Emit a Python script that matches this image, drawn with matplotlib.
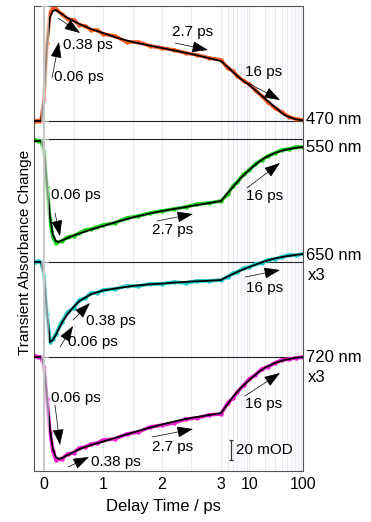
import numpy as np
import matplotlib
matplotlib.use("Agg")
import matplotlib.pyplot as plt

plt.rcParams['font.family'] = ['Liberation Sans', 'DejaVu Sans']

# measured kinetics, delay time in ps, signal in mOD
t_data = [-0.15, -0.1, -0.05, 0.0, 0.05, 0.1, 0.15, 0.2, 0.3, 0.4, 0.5, 0.6, 0.7, 0.8,
          0.9, 1.0, 1.2, 1.4, 1.6, 1.8, 2.0, 2.2, 2.4, 2.6, 2.8, 3.0,
          4, 5, 6, 8, 10, 13, 17, 22, 30, 40, 55, 75, 100]
d470 = [0, 0.5, 0, 22, 78, 108, 113, 112, 107, 102, 101, 96, 95, 91,
        91, 87, 85, 79, 79, 75, 73, 71, 68, 66, 63, 61,
        53, 50, 45, 40, 37, 31, 25, 19, 13, 9, 4, 2, 1]
d550 = [-1, -2, -2, -12, -48, -80, -98, -104, -102, -98, -97, -94, -91, -90,
        -88, -86, -84, -79, -77, -74, -72, -70, -68, -65, -64, -62,
        -55, -47, -43, -35, -31, -25, -21, -17, -14, -11, -10, -8, -8]
d650 = [0, 0.3, 0, -4.7, -17.3, -26.7, -25.7, -24, -20, -16.7, -15.3, -12.7, -12, -10.3,
        -10.3, -9.3, -9, -8, -8, -7.3, -7.3, -6.7, -7, -6.3, -6.3, -6,
        -5, -3.7, -3.3, -2, -1.7, -0.7, -0.3, 0.7, 1, 1.7, 2.3, 2.3, 2.7]
d720 = [0.3, 0, 0, -3.3, -14, -25, -31.3, -34.3, -34, -32.3, -32, -30.3, -30, -29,
        -28.7, -27.7, -27.3, -25.7, -25, -23.3, -22.7, -22, -20.7, -20.3, -19.3, -19,
        -15.3, -13.7, -11.7, -9.3, -7.3, -6, -4, -3.3, -2, -1, -0.7, -0.3, 0]

# global fit curves
t_fit = [-0.17, -0.05, 0.0, 0.05, 0.1, 0.15, 0.2, 0.25, 0.3, 0.4, 0.5, 0.6, 0.8, 1.0,
         1.25, 1.5, 1.75, 2.0, 2.25, 2.5, 2.75, 3.0, 4, 5, 7, 10, 15, 20, 30, 45, 70, 100]
f470 = [0, 0, 25, 75, 104, 110, 111, 109, 107, 103, 100, 97, 92, 88,
        83, 79, 76, 73, 70, 67, 63.5, 60, 54, 49, 42, 36, 28, 22, 14, 6, 2, 0.5]
f550 = [-2, -2, -10, -45, -78, -96, -102, -103, -101.5, -99, -96.5, -94.5, -90.5, -87,
        -82.5, -78.5, -75, -72, -69.5, -67, -64.5, -62, -54, -48, -39, -31, -23, -18.5,
        -14, -11, -9, -8]
f650 = [0, 0, -4, -16.7, -26.7, -26, -24.3, -22.3, -20.3, -17.3, -15, -13, -10.7, -9.5,
        -8.7, -8, -7.5, -7.2, -6.8, -6.5, -6.3, -6, -4.8, -4, -2.8, -1.7, -0.5, 0.3,
        1.2, 1.8, 2.3, 2.7]
f720 = [0, 0, -2.7, -13.3, -24, -30.7, -33.3, -34, -33.7, -32.7, -31.7, -30.7, -29.3, -28.2,
        -26.7, -25.2, -23.8, -22.5, -21.3, -20.3, -19.5, -18.7, -15.7, -13.3, -10.3, -7.7,
        -5, -3.5, -2, -1, -0.3, 0]

labels = ['470 nm', '550 nm', '650 nm', '720 nm']
scales = [1, 1, 3, 3]
offsets = [350, 332, 209, 114]
colors = ['#ff5a1e', '#1ed21e', '#1ec8cc', '#f01ed2']
data = [d470, d550, d650, d720]
fits = [f470, f550, f650, f720]

# where the wavelength tags go on the right (data y)
label_y = [351, 324, 216, 114]

# linear up to 3 ps, logarithmic after that
K = 0.913


def fwd(t):
    t = np.asarray(t, dtype=float)
    return np.where(t <= 3, t, 3 + K * np.log10(np.maximum(t, 3) / 3))


def inv(u):
    u = np.asarray(u, dtype=float)
    return np.where(u <= 3, u, 3 * 10 ** ((np.minimum(u, 8) - 3) / K))


fig = plt.figure(figsize=(3.71, 5.22), dpi=100)
ax = fig.add_axes([34 / 371, 51 / 522, 269 / 371, 465 / 522])
ax.set_xscale('function', functions=(fwd, inv))
ax.set_xlim(-0.17, 100)
ax.set_ylim(0, 465)

for g in [0.5, 1, 1.5, 2, 2.5, 3] + list(range(4, 10)) + list(range(10, 100, 10)):
    ax.axvline(g, color='#eaeaf7', lw=0.8, zorder=0)

for off in offsets:
    ax.axhline(off, color='#222222', lw=0.8, zorder=1)

for d, f, s, off, c in zip(data, fits, scales, offsets, colors):
    ax.plot(t_data, off + s * np.array(d), color=c, lw=2.6, marker='o', ms=2.2,
            zorder=2)
    ax.plot(t_fit, off + s * np.array(f), color='black', lw=1.3, zorder=3)

# pump overlap region
ax.axvspan(-0.05, 0.08, color='white', alpha=0.55, lw=0, zorder=4)
ax.axvline(0, color='#c8c8c8', lw=1.4, zorder=5)

tr = ax.get_yaxis_transform()
for lab, ly, s in zip(labels, label_y, scales):
    ax.text(1.011, ly, lab, transform=tr, fontsize=12,
            ha='left', va='center', clip_on=False)
    if s != 1:
        ax.text(1.017, ly - 21, 'x%d' % s, transform=tr, fontsize=12,
                ha='left', va='center', clip_on=False)

ann = [
    # text, text pos, arrow tail, arrow head
    ('0.06 ps', (0.169, 394), (0.135, 393), (0.254, 429)),
    ('0.38 ps', (0.322, 426), (0.237, 453), (0.610, 438)),
    ('2.7 ps', (2.169, 439), (2.220, 428), (2.779, 421)),
    ('16 ps', (8.38, 399), (9.5, 388), (37.4, 371)),
    ('0.06 ps', (0.118, 276), (0.186, 258), (0.271, 235)),
    ('2.7 ps', (1.830, 241), (1.915, 250), (2.525, 257)),
    ('16 ps', (8.74, 275), (9.12, 283), (37.4, 308)),
    ('16 ps', (8.74, 183), (8.38, 194), (37.4, 201)),
    ('0.38 ps', (0.711, 150), (0.491, 151), (0.779, 168)),
    ('0.06 ps', (0.406, 129), (0.271, 124), (0.491, 145)),
    ('0.06 ps', (0.118, 73), (0.186, 66), (0.271, 26)),
    ('0.38 ps', (0.797, 9), (0.406, 4), (0.762, 14)),
    ('2.7 ps', (1.830, 24), (1.830, 34), (2.525, 42)),
    ('16 ps', (8.38, 67), (8.38, 75), (37.4, 98)),
]
for txt, pos, tail, head in ann:
    ax.text(pos[0], pos[1], txt, fontsize=11, ha='left', va='center', zorder=6)
    ax.annotate('', xy=head, xytext=tail, zorder=6,
                arrowprops=dict(arrowstyle='-|>,head_length=1.0,head_width=0.35',
                                mutation_scale=10, lw=0.5, color='black',
                                shrinkA=0, shrinkB=0))

# 20 mOD scale bar
ax.errorbar([4.59], [21], yerr=[10], color='#333333', lw=0.9, capsize=1.5,
            capthick=0.9, zorder=6)
ax.text(5.69, 21, '20 mOD', fontsize=11, ha='left', va='center', zorder=6)

ax.set_yticks([])
ax.set_xticks([0, 1, 2, 3, 10, 100])
ax.set_xticklabels(['0', '1', '2', '3', '10', '100'])
ax.set_xticks([], minor=True)
ax.tick_params(axis='x', length=0, pad=4, labelsize=11.5)
for sp in ax.spines.values():
    sp.set_color('#555555')
    sp.set_linewidth(0.8)

fig.text(163 / 371, 1 - 506 / 522, 'Delay Time / ps', fontsize=12,
         ha='center', va='center')
fig.text(25 / 371, 1 - 252 / 522, 'Transient Absorbance Change', fontsize=11,
         rotation=90, ha='center', va='center')

fig.savefig('out.png', dpi=100)
